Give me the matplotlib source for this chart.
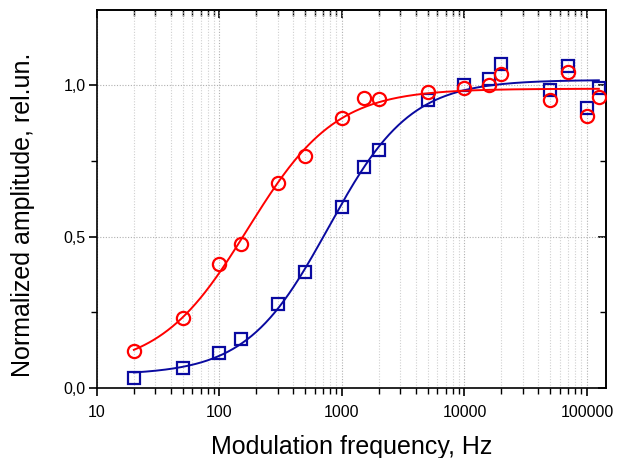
import numpy as np
import matplotlib
matplotlib.use("Agg")
import matplotlib.pyplot as plt
from matplotlib.ticker import LogLocator, FixedLocator, NullFormatter

plt.rcParams['font.family'] = ['Liberation Sans', 'DejaVu Sans']

freq = [20, 50, 100, 150, 300, 500, 1000, 1500, 2000, 5000, 10000, 16000, 20000, 50000, 70000, 100000, 125000]
amp_blue = [0.032, 0.065, 0.117, 0.161, 0.278, 0.384, 0.596, 0.730, 0.785, 0.950, 1.000, 1.019, 1.069, 0.983, 1.063, 0.925, 0.989]
amp_red = [0.121, 0.230, 0.409, 0.474, 0.678, 0.766, 0.890, 0.956, 0.953, 0.978, 0.991, 1.002, 1.036, 0.950, 1.042, 0.898, 0.960]

xticks = [10, 100, 1000, 10000, 100000]
xticklabels = ["10", "100", "1000", "10000", "100000"]
yticks = [0.0, 0.5, 1.0]
yticklabels = ["0,0", "0,5", "1,0"]

BLUE = '#0A0AA0'
RED = '#FF0000'


def sigmoid_fit(x, y):
    lx = np.log10(np.asarray(x, float))
    y = np.asarray(y, float)
    best = None
    for x0 in np.linspace(1.5, 4.5, 301):
        for p in np.linspace(0.3, 3.0, 271):
            s = 1.0 / (1.0 + 10 ** ((x0 - lx) * p))
            A = np.column_stack([1 - s, s])
            coef, *_ = np.linalg.lstsq(A, y, rcond=None)
            r = np.sum((A @ coef - y) ** 2)
            if best is None or r < best[0]:
                best = (r, x0, p, coef)
    _, x0, p, (a1, a2) = best

    def f(xx):
        s = 1.0 / (1.0 + 10 ** ((x0 - np.log10(xx)) * p))
        return a1 + (a2 - a1) * s
    return f


fig = plt.figure(figsize=(6.18, 4.58), dpi=100)
ax = fig.add_axes([97 / 618, 70 / 458, (606 - 97) / 618, (388 - 10) / 458])

xs = np.logspace(np.log10(freq[0]), np.log10(freq[-1]), 400)
fb = sigmoid_fit(freq, amp_blue)
fr = sigmoid_fit(freq, amp_red)

ax.plot(xs, fb(xs), color=BLUE, lw=1.4, zorder=3)
ax.plot(freq, amp_blue, ls='none', marker='s', ms=8.5, mfc='none', mec=BLUE, mew=1.6, zorder=4)
ax.plot(xs, fr(xs), color=RED, lw=1.4, zorder=5)
ax.plot(freq, amp_red, ls='none', marker='o', ms=9.5, mfc='none', mec=RED, mew=1.6, zorder=6)

ax.set_xscale('log')
ax.set_xlim(10, 143000)
ax.set_ylim(0, 1.248)

ax.xaxis.set_major_locator(FixedLocator(xticks))
ax.set_xticklabels(xticklabels)
ax.xaxis.set_minor_locator(LogLocator(base=10, subs=np.arange(2, 10)))
ax.xaxis.set_minor_formatter(NullFormatter())
ax.yaxis.set_major_locator(FixedLocator(yticks))
ax.set_yticklabels(yticklabels)
ax.yaxis.set_minor_locator(FixedLocator([0.25, 0.75]))

ax.grid(True, which='major', axis='both', ls=(0, (1, 1.5)), color='#b0b0b0', lw=0.8)
ax.grid(True, which='minor', axis='x', ls=(0, (1, 1.5)), color='#d0d0d0', lw=0.8)
ax.set_axisbelow(True)

ax.tick_params(axis='both', which='major', direction='out', length=6, width=1.2, labelsize=11.5, colors='black')
ax.tick_params(axis='both', which='minor', direction='out', length=4, width=1.0)
ax.tick_params(axis='x', which='major', pad=6)
ax.tick_params(axis='y', which='major', pad=2)

# mirrored inward ticks on top and right
axt = ax.secondary_xaxis('top')
axt.xaxis.set_major_locator(FixedLocator(xticks))
axt.xaxis.set_minor_locator(LogLocator(base=10, subs=np.arange(2, 10)))
axt.tick_params(which='major', direction='in', length=6, width=1.2, labeltop=False)
axt.tick_params(which='minor', direction='in', length=4, width=1.0)
axt.xaxis.set_major_formatter(NullFormatter())
axt.xaxis.set_minor_formatter(NullFormatter())
axr = ax.secondary_yaxis('right')
axr.yaxis.set_major_locator(FixedLocator(yticks))
axr.yaxis.set_minor_locator(FixedLocator([0.25, 0.75]))
axr.tick_params(which='major', direction='in', length=6, width=1.2, labelright=False)
axr.tick_params(which='minor', direction='in', length=4, width=1.0)
axr.yaxis.set_major_formatter(NullFormatter())

for sp in ax.spines.values():
    sp.set_linewidth(1.2)
axt.spines['top'].set_linewidth(1.2)
axr.spines['right'].set_linewidth(1.2)

ax.set_xlabel('Modulation frequency, Hz', fontsize=18, labelpad=11)
ax.set_ylabel('Normalized amplitude, rel.un.', fontsize=18)
ax.yaxis.set_label_coords(-0.121, 0.458)

fig.savefig('out.png', dpi=100)
